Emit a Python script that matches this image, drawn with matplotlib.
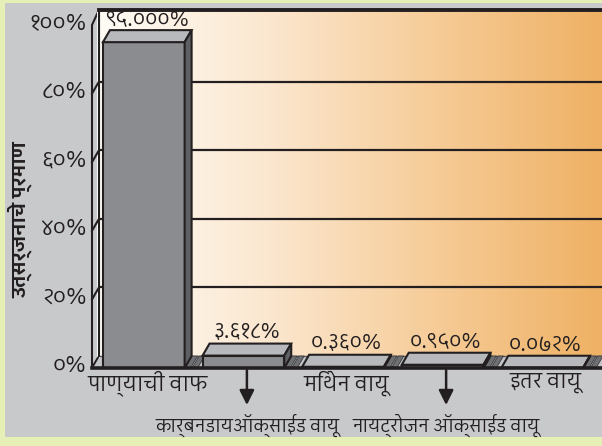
import matplotlib
matplotlib.use("Agg")
import matplotlib.pyplot as plt
import numpy as np
from matplotlib import font_manager
from matplotlib.ft2font import FT2Font
from matplotlib.colors import LinearSegmentedColormap
from matplotlib.patches import Polygon, Rectangle
from matplotlib.transforms import ScaledTranslation

# डेटा
categories = ["पाण्याची वाफ", "कार्बनडायऑक्साईड वायू", "मिथेन वायू",
              "नायट्रोजन ऑक्साईड वायू", "इतर वायू"]
values = [95.000, 3.618, 0.360, 0.950, 0.072]
value_labels = ["९५.०००%", "३.६१८%", "०.३६०%", "०.९५०%", "०.०७२%"]
y_ticks = [0, 20, 40, 60, 80, 100]
y_tick_labels = ["०%", "२०%", "४०%", "६०%", "८०%", "१००%"]
y_label = "उत्सर्जनाचे प्रमाण"


def find_devanagari_font():
    """Ищем установленный шрифт с деванагари."""
    found = []
    for entry in font_manager.fontManager.ttflist:
        try:
            charmap = FT2Font(entry.fname).get_charmap()
        except Exception:
            continue
        if 0x0915 in charmap and 0x0966 in charmap:
            found.append(entry.name)
    found = sorted(set(found), key=lambda n: (("Devanagari" not in n), ("Sans" not in n), n))
    return found[:1] + ["DejaVu Sans"]


plt.rcParams["font.family"] = find_devanagari_font()

W, H = 602, 446
fig = plt.figure(figsize=(W / 100, H / 100), dpi=100)
fig.patch.set_facecolor("#e6f0b6")
fig.patches.append(Rectangle((5 / W, 9 / H), 1 - 5 / W, (437 - 3) / H,
                             transform=fig.transFigure, facecolor="#c8c9cb",
                             edgecolor="none", zorder=-10))

# передняя плоскость: x от -0.52 до 4.60, y = 0..100 %
x_left, x_right = -0.52, 4.60
y0_px, y100_px = 368, 25
ax = fig.add_axes([92 / W, (H - y0_px) / H, (602 - 92) / W, (y0_px - y100_px) / H])
ax.set_facecolor("none")

dx, dy = 0.07, 3.5
width = 0.82
wall_top = 100 + dy + 0.9

# задняя стенка с градиентом
grad_cmap = LinearSegmentedColormap.from_list(
    "wall", ["#fffcf6", "#fbe7cf", "#f6cb96", "#eeb062"])
grad = np.linspace(0, 1, 256).reshape(1, -1)
ax.imshow(grad, extent=[x_left + dx, x_right + dx, dy, wall_top], aspect="auto",
          cmap=grad_cmap, zorder=0, clip_on=False)

# левая стенка
ax.add_patch(Polygon([(x_left, 0), (x_left + dx, dy), (x_left + dx, wall_top), (x_left, 100)],
                     closed=True, facecolor="#c8c9cb", edgecolor="#231f20", lw=1.5,
                     zorder=1, clip_on=False))
ax.plot([x_left + dx - 0.014] * 2, [dy, wall_top], color="white", lw=2.2, zorder=2, clip_on=False)
ax.plot([x_left + dx] * 2, [dy, wall_top], color="#231f20", lw=1.5, zorder=2, clip_on=False)

# сетка и засечки
for v in y_ticks[1:-1]:
    ax.plot([x_left, x_left + dx], [v, v + dy], color="#231f20", lw=1.5, zorder=2, clip_on=False)
    ax.plot([x_left + dx, x_right + dx], [v + dy, v + dy], color="#231f20", lw=1.6,
            zorder=1, clip_on=False)
ax.plot([x_left + dx, x_right + dx], [wall_top, wall_top], color="#231f20", lw=2.8,
        zorder=2, clip_on=False)

# пол
ax.add_patch(Polygon([(x_left, 0), (x_right + dx, 0), (x_right + dx, dy), (x_left + dx, dy)],
                     closed=True, facecolor="#c3c4c7", edgecolor="none", zorder=1, clip_on=False))
ax.plot([x_left + dx, x_right + dx], [dy, dy], color="#555659", lw=1, zorder=1, clip_on=False)
ax.plot([x_left + dx, x_left], [dy, 0], color="#231f20", lw=1.2, zorder=2, clip_on=False)
gaps = [i + 0.5 for i in range(len(values))]
for g in gaps:
    for a in (g - 0.085, g - 0.015):
        ax.add_patch(Polygon([(a, 0), (a + 0.055, 0), (a + 0.055 + dx, dy), (a + dx, dy)],
                             closed=True, facecolor="#6f7073", edgecolor="#3a3a3c", lw=0.6,
                             zorder=2, clip_on=False))

# столбцы
xs = np.arange(len(values))
ax.bar(xs, values, width=width, color="#8b8c90", edgecolor="#231f20", linewidth=1.5, zorder=4)
for x, v in zip(xs, values):
    l, r = x - width / 2, x + width / 2
    ax.add_patch(Polygon([(l, v), (r, v), (r + dx, v + dy), (l + dx, v + dy)], closed=True,
                         facecolor="#b8b9bc", edgecolor="#231f20", lw=1.5, zorder=4,
                         clip_on=False))
    ax.add_patch(Polygon([(r, 0), (r + dx, dy), (r + dx, v + dy), (r, v)], closed=True,
                         facecolor="#5f6063", edgecolor="#231f20", lw=1.5, zorder=4,
                         clip_on=False))

for x, v, lab in zip(xs, values, value_labels):
    ax.annotate(lab, (x + dx / 2, v + dy), xytext=(0, 1), textcoords="offset points",
                ha="center", va="bottom", fontsize=15, color="#231f20", zorder=6,
                annotation_clip=False)

ax.plot([x_left, x_right + dx], [0, 0], color="#231f20", lw=2.6, zorder=5, clip_on=False)

# подписи категорий в два ряда со стрелками
for x, lab in zip(xs, categories):
    if x % 2 == 0:
        ax.text(x + dx / 2, -4.4, lab, ha="center", va="center", fontsize=15, color="#231f20")
    else:
        ax.annotate("", xy=(x + dx / 2, -10.8), xytext=(x + dx / 2, -0.6),
                    arrowprops=dict(arrowstyle="-|>", color="#231f20", lw=1.8,
                                    mutation_scale=22, shrinkA=0, shrinkB=0),
                    annotation_clip=False)
        ax.text(x + dx / 2, -16.7, lab, ha="center", va="center", fontsize=13, color="#231f20")

ax.set_xlim(x_left, x_right)
ax.set_ylim(0, 100)
ax.set_xticks([])
ax.set_yticks(y_ticks, y_tick_labels, fontsize=16, color="#231f20")
ax.tick_params(axis="y", length=0, pad=4)
shift_up = ScaledTranslation(0, 3 / 72, fig.dpi_scale_trans)
for lab in ax.get_yticklabels():
    lab.set_transform(lab.get_transform() + shift_up)
for s in ax.spines.values():
    s.set_visible(False)

fig.text(20 / W, 1 - 220 / H, y_label, rotation=90, ha="center", va="center",
         fontsize=14, fontweight="bold", color="#231f20")

fig.savefig("out.png", dpi=100, facecolor=fig.get_facecolor())
